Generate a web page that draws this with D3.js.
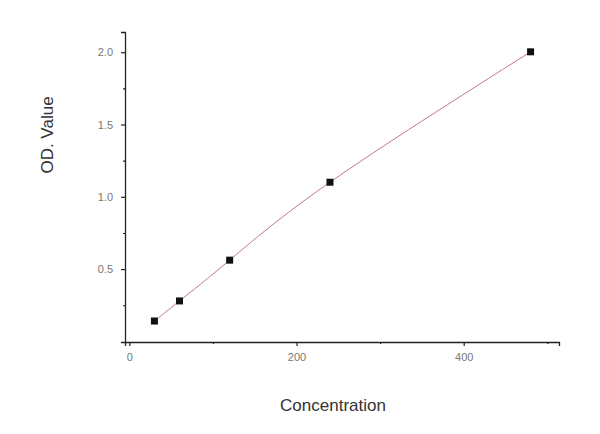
<!DOCTYPE html>
<html>
<head>
<meta charset="utf-8">
<script src="https://cdn.jsdelivr.net/npm/d3@7"></script>
<style>
  body { margin: 0; background: #fff; }
  svg { display: block; }
</style>
</head>
<body>
<svg id="chart"></svg>
<script>
// standard curve points
const concentration = [30, 60, 120, 240, 480];
const odValue = [0.141, 0.28, 0.562, 1.101, 2.003];

const xMajorTicks = [0, 200, 400];
const xMinorTicks = [100, 300, 500];
const yMajorTicks = [0.5, 1.0, 1.5, 2.0];
const yMinorTicks = [0.25, 0.75, 1.25, 1.75];

const data = concentration.map((c, i) => ({x: c, y: odValue[i]}));

const width = 600, height = 434;
const margin = {top: 32, right: 41, bottom: 92, left: 125};

const svg = d3.select("#chart")
    .attr("width", width)
    .attr("height", height);

// scales
const xScale = d3.scaleLinear()
    .domain([-5.2, 514])
    .range([margin.left, width - margin.right]);

const yScale = d3.scaleLinear()
    .domain([-0.004, 2.14])
    .range([height - margin.bottom, margin.top]);

const tickFont = "'Liberation Sans', Arial, sans-serif";

// x axis
svg.append("g")
    .attr("transform", `translate(0,${height - margin.bottom})`)
    .call(d3.axisBottom(xScale).tickValues(xMajorTicks).tickSize(4).tickPadding(7)
        .tickFormat(d3.format("d")));

svg.append("g")
    .attr("transform", `translate(0,${height - margin.bottom})`)
    .call(d3.axisBottom(xScale).tickValues(xMinorTicks).tickSize(2).tickFormat(""))
    .call(g => g.select(".domain").remove());

// y axis
svg.append("g")
    .attr("transform", `translate(${margin.left},0)`)
    .call(d3.axisLeft(yScale).tickValues(yMajorTicks).tickSize(4).tickPadding(8)
        .tickFormat(d3.format(".1f")));

svg.append("g")
    .attr("transform", `translate(${margin.left},0)`)
    .call(d3.axisLeft(yScale).tickValues(yMinorTicks).tickSize(2).tickFormat(""))
    .call(g => g.select(".domain").remove());

svg.selectAll(".domain").attr("stroke", "#222").attr("stroke-width", 1.3);
svg.selectAll(".tick line").attr("stroke", "#222").attr("stroke-width", 1.2);
svg.selectAll(".tick text")
    .attr("fill", "#777")
    .style("font-family", tickFont)
    .style("font-size", "11px");

// axis labels
svg.append("text")
    .attr("x", 333)
    .attr("y", 411)
    .attr("text-anchor", "middle")
    .attr("fill", "#333")
    .style("font-family", tickFont)
    .style("font-size", "17px")
    .text("Concentration");

svg.append("text")
    .attr("transform", "translate(53,135) rotate(-90)")
    .attr("text-anchor", "middle")
    .attr("fill", "#333")
    .style("font-family", tickFont)
    .style("font-size", "17px")
    .text("OD. Value");

// fitted curve
const line = d3.line()
    .x(d => xScale(d.x))
    .y(d => yScale(d.y))
    .curve(d3.curveNatural);

svg.append("path")
    .datum(data)
    .attr("d", line)
    .attr("fill", "none")
    .attr("stroke", "#c07a88")
    .attr("stroke-width", 1);

// markers
svg.selectAll(".pt")
    .data(data)
    .enter().append("rect")
    .attr("class", "pt")
    .attr("x", d => xScale(d.x) - 3.5)
    .attr("y", d => yScale(d.y) - 3.5)
    .attr("width", 7)
    .attr("height", 7)
    .attr("fill", "#111");
</script>
</body>
</html>
